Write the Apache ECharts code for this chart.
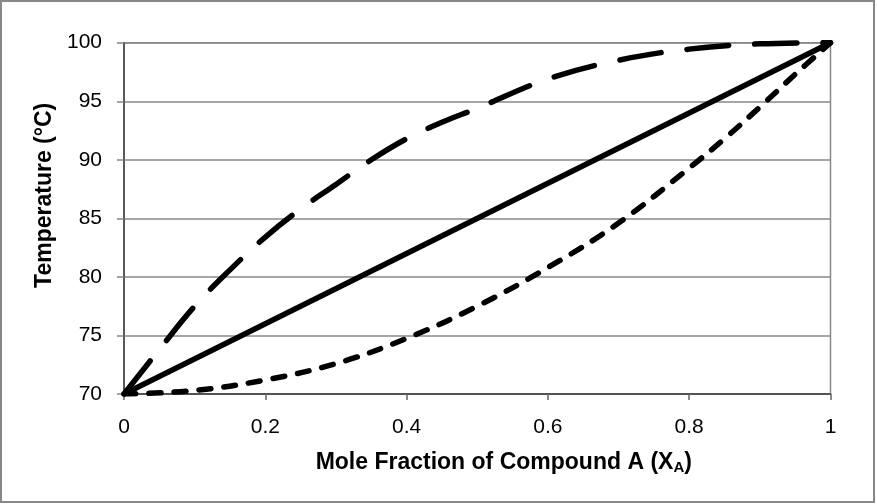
<!DOCTYPE html>
<html>
<head>
<meta charset="utf-8">
<script src="https://cdn.jsdelivr.net/npm/echarts@6/dist/echarts.min.js"></script>
<style>
  html, body { margin: 0; padding: 0; background: #fff; }
  #chart { width: 877px; height: 504px; }
</style>
</head>
<body>
<div id="chart"></div>
<script>
// mole fraction of A (x) vs temperature (y)
var straightX = [0, 1];
var straightT = [70, 100];

var upperX = [0, 0.05, 0.1, 0.15, 0.2, 0.25, 0.3, 0.35, 0.4, 0.45, 0.5, 0.6, 0.7, 0.8, 0.9, 1];
var upperT = [70, 73.8, 77.5, 80.6, 83.4, 85.8, 87.9, 90.0, 91.8, 93.2, 94.4, 96.9, 98.5, 99.45, 99.9, 100];

var lowerX = [0, 0.1, 0.2, 0.3, 0.4, 0.5, 0.6, 0.7, 0.8, 0.85, 0.9, 0.95, 1];
var lowerT = [70, 70.3, 71.2, 72.6, 74.75, 77.5, 80.8, 84.6, 89.3, 91.8, 94.5, 97.3, 100];

function pairs(xs, ys) {
  return xs.map(function (x, i) { return [x, ys[i]]; });
}

var chart = echarts.init(document.getElementById('chart'));

var font = 'Liberation Sans, Arial, sans-serif';
var lineWidth = 5.5;

chart.setOption({
  animation: false,
  grid: {
    left: 124, right: 46.5, top: 42.7, bottom: 110,
    show: true, borderColor: '#888', borderWidth: 1.5
  },
  xAxis: {
    type: 'value', min: 0, max: 1, interval: 0.2,
    name: '{a|Mole Fraction of Compound A (X}{s|A}{a|)}',
    nameLocation: 'middle', nameGap: 56,
    nameTextStyle: {
      padding: [0, 0, 0, 53],
      rich: {
        a: { fontFamily: font, fontSize: 23, fontWeight: 'bold', color: '#000' },
        s: { fontFamily: font, fontSize: 15, fontWeight: 'bold', color: '#000', verticalAlign: 'bottom', padding: [10, 0, 0, 0] }
      }
    },
    axisLine: { lineStyle: { color: '#404040', width: 1.5 } },
    axisTick: { show: true, length: 6, lineStyle: { color: '#666', width: 1.5 } },
    axisLabel: { margin: 23, fontFamily: font, fontSize: 21, color: '#000' },
    splitLine: { show: false }
  },
  yAxis: {
    type: 'value', min: 70, max: 100, interval: 5,
    name: 'Temperature (°C)',
    nameLocation: 'middle', nameGap: 63,
    nameTextStyle: {
      fontFamily: font, fontSize: 23, fontWeight: 'bold', color: '#000',
      padding: [0, 0, 0, 46]
    },
    axisLine: { show: true, lineStyle: { color: '#404040', width: 1.5 } },
    axisTick: { show: true, length: 7, lineStyle: { color: '#888', width: 1.5 } },
    axisLabel: { margin: 22, fontFamily: font, fontSize: 21, color: '#000' },
    splitLine: { lineStyle: { color: '#888', width: 1.5 } }
  },
  series: [
    {
      type: 'line', data: pairs(straightX, straightT),
      symbol: 'none', z: 3,
      lineStyle: { color: '#000', width: lineWidth }
    },
    {
      type: 'line', data: pairs(upperX, upperT),
      symbol: 'none', smooth: 0.4, z: 3,
      lineStyle: { color: '#000', width: lineWidth, type: [42, 26], cap: 'round' }
    },
    {
      type: 'line', data: pairs(lowerX, lowerT),
      symbol: 'none', smooth: 0.4, z: 3,
      lineStyle: { color: '#000', width: lineWidth, type: [12, 13], cap: 'round' }
    }
  ],
  graphic: [{
    type: 'rect', silent: true, z: -1,
    shape: { x: 1, y: 1, width: 873, height: 501 },
    style: { fill: null, stroke: '#888', lineWidth: 2 }
  }]
});
</script>
</body>
</html>
